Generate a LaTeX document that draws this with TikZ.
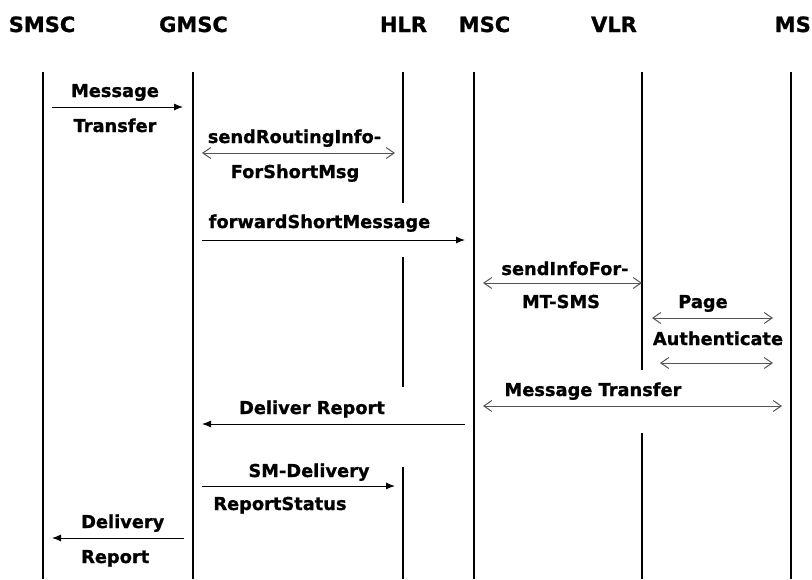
\documentclass[tikz,border=0pt]{standalone}
\usepackage{fontspec}
\setmainfont{DejaVu Sans}[BoldFeatures={FakeBold=1}]
\usetikzlibrary{arrows.meta}

\definecolor{twoway}{HTML}{555555}

\tikzset{
  actor/.style={font=\bfseries\fontsize{21}{21}\selectfont, anchor=base, inner sep=0pt},
  lbl/.style={font=\bfseries\fontsize{17.8}{17.8}\selectfont, anchor=base, inner sep=0pt},
  lifeline/.style={line width=1.5pt},
  msg/.style={line width=1pt, -{Latex[length=9pt,width=7pt]}},
  dmsg/.style={line width=1pt, draw=twoway,
    {Straight Barb[length=8pt,width=11pt]}-{Straight Barb[length=8pt,width=11pt]}},
}

\begin{document}
\begin{tikzpicture}[x=1pt,y=-1pt]
  \useasboundingbox (0,0) rectangle (812,579);

  % entities
  \node[actor] (smsc) at (42,32) {SMSC};
  \node[actor] (gmsc) at (193.5,32) {GMSC};
  \node[actor] (hlr) at (403.5,32) {HLR};
  \node[actor] (msc) at (484.5,32) {MSC};
  \node[actor] (vlr) at (614,32) {VLR};
  \node[actor, anchor=base east] (ms) at (811,32) {MS};

  % lifelines
  \foreach \n/\x in {smsc/43, gmsc/193, hlr/403, msc/474, vlr/642, ms/791} {
    \coordinate (\n-top) at (\x,72);
    \coordinate (\n-bot) at (\x,579);
  }
  \coordinate (hlr-g1) at (403,203);
  \coordinate (hlr-g2) at (403,257);
  \coordinate (hlr-g3) at (403,387);
  \coordinate (hlr-g4) at (403,467);
  \coordinate (vlr-g1) at (642,370);
  \coordinate (vlr-g2) at (642,433);
  \draw[lifeline] (smsc-top) -- (smsc-bot);
  \draw[lifeline] (gmsc-top) -- (gmsc-bot);
  \draw[lifeline] (msc-top) -- (msc-bot);
  \draw[lifeline] (ms-top) -- (ms-bot);
  \draw[lifeline] (hlr-top) -- (hlr-g1) (hlr-g2) -- (hlr-g3) (hlr-g4) -- (hlr-bot);
  \draw[lifeline] (vlr-top) -- (vlr-g1) (vlr-g2) -- (vlr-bot);

  % message end points
  \coordinate (mt-a) at (52,107);   \coordinate (mt-b) at (183,107);
  \coordinate (sri-a) at (202,153); \coordinate (sri-b) at (395,153);
  \coordinate (fsm-a) at (202,240); \coordinate (fsm-b) at (465,240);
  \coordinate (sif-a) at (483,283); \coordinate (sif-b) at (642,283);
  \coordinate (pg-a) at (652,318);  \coordinate (pg-b) at (773,318);
  \coordinate (au-a) at (660,363);  \coordinate (au-b) at (773,363);
  \coordinate (mt2-a) at (483,406); \coordinate (mt2-b) at (782,406);
  \coordinate (dr-a) at (465,424);  \coordinate (dr-b) at (202,424);
  \coordinate (sm-a) at (202,486);  \coordinate (sm-b) at (395,486);
  \coordinate (dl-a) at (184,538);  \coordinate (dl-b) at (52,538);

  \draw[msg] (mt-a) -- (mt-b);
  \draw[dmsg] (sri-a) -- (sri-b);
  \draw[msg] (fsm-a) -- (fsm-b);
  \draw[dmsg] (sif-a) -- (sif-b);
  \draw[dmsg] (pg-a) -- (pg-b);
  \draw[dmsg] (au-a) -- (au-b);
  \draw[dmsg] (mt2-a) -- (mt2-b);
  \draw[msg] (dr-a) -- (dr-b);
  \draw[msg] (sm-a) -- (sm-b);
  \draw[msg] (dl-a) -- (dl-b);

  % labels
  \node[lbl] (mt-up) at (115,97) {Message};
  \node[lbl] (mt-dn) at (115,132) {Transfer};
  \node[lbl] (sri-up) at (294.5,143) {sendRoutingInfo-};
  \node[lbl] (sri-dn) at (295,178) {ForShortMsg};
  \node[lbl] (fsm-up) at (319.5,228) {forwardShortMessage};
  \node[lbl] (sif-up) at (565,275) {sendInfoFor-};
  \node[lbl] (sif-dn) at (561,308) {MT-SMS};
  \node[lbl] (pg-up) at (703,308) {Page};
  \node[lbl] (au-up) at (718,345) {Authenticate};
  \node[lbl] (mt2-up) at (593,396) {Message Transfer};
  \node[lbl] (dr-up) at (312,414) {Deliver Report};
  \node[lbl] (sm-up) at (309,477) {SM-Delivery};
  \node[lbl] (sm-dn) at (280,510) {ReportStatus};
  \node[lbl, anchor=base west] (dl-up) at (81,528) {Delivery};
  \node[lbl, anchor=base west] (dl-dn) at (81,563) {Report};
\end{tikzpicture}
\end{document}
